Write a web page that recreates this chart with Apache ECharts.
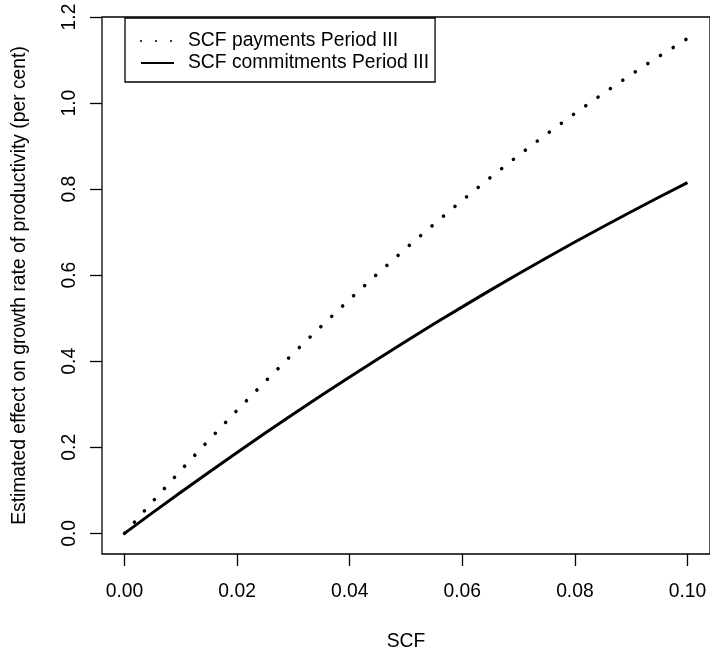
<!DOCTYPE html>
<html>
<head>
<meta charset="utf-8">
<script src="https://cdn.jsdelivr.net/npm/echarts@6/dist/echarts.min.js"></script>
<style>
html,body{margin:0;padding:0;background:#fff;}
#chart{width:710px;height:647px;}
</style>
</head>
<body>
<div id="chart"></div>
<script>
// SCF values (x axis)
var scf = [0, 0.005, 0.01, 0.015, 0.02, 0.025, 0.03, 0.035, 0.04, 0.045, 0.05,
           0.055, 0.06, 0.065, 0.07, 0.075, 0.08, 0.085, 0.09, 0.095, 0.1];
// SCF payments Period III (dotted)
var payments = [0, 0.074, 0.1465, 0.217, 0.286, 0.353, 0.4185, 0.482, 0.544, 0.604, 0.6625,
                0.719, 0.774, 0.827, 0.8785, 0.928, 0.976, 1.022, 1.0665, 1.109, 1.15];
// SCF commitments Period III (solid)
var commitments = [0, 0.0482, 0.0955, 0.1421, 0.188, 0.233, 0.2773, 0.3207, 0.3634, 0.4054, 0.4465,
                   0.4869, 0.5264, 0.5652, 0.6033, 0.6405, 0.677, 0.7126, 0.7475, 0.7817, 0.815];
var xTicks = [0, 0.02, 0.04, 0.06, 0.08, 0.1];
var yTicks = [0, 0.2, 0.4, 0.6, 0.8, 1.0, 1.2];
var seriesNames = ['SCF payments Period III', 'SCF commitments Period III'];
var xTitle = 'SCF';
var yTitle = 'Estimated effect on growth rate of productivity (per cent)';

function pairs(xs, ys){ return xs.map(function(x,i){ return [x, ys[i]]; }); }

var FONT = '"Liberation Sans", Arial, Helvetica, sans-serif';
var FS = 19.3;

var chart = echarts.init(document.getElementById('chart'), null, {renderer:'canvas'});
chart.setOption({
  animation: false,
  backgroundColor: '#fff',
  color: ['#000', '#000'],
  textStyle: {fontFamily: FONT, color: '#000'},
  grid: {
    left: 102, top: 17, right: 0, bottom: 93,
    outerBoundsMode: 'none', containLabel: false,
    show: true, borderColor: '#000', borderWidth: 1.3, backgroundColor: 'transparent'
  },
  legend: {
    orient: 'vertical',
    left: 125, top: 18,
    padding: [12, 6, 8, 15],
    borderColor: '#000', borderWidth: 1.3,
    itemWidth: 33, itemHeight: 22, itemGap: 0,
    itemStyle: {opacity: 0},
    textStyle: {fontFamily: FONT, fontSize: FS, color: '#000', lineHeight: 22, padding: [0,0,0,9]},
    data: seriesNames,
    selectedMode: false
  },
  xAxis: {
    type: 'value',
    min: -0.004, max: 0.104,
    name: xTitle, nameLocation: 'middle', nameGap: 78,
    nameTextStyle: {fontFamily: FONT, fontSize: FS, color: '#000'},
    axisLine: {show: false, onZero: false},
    splitLine: {show: false},
    axisTick: {show: true, inside: false, length: 12, customValues: xTicks,
               lineStyle: {color: '#000', width: 1.3}},
    axisLabel: {show: true, margin: 28, customValues: xTicks,
                fontFamily: FONT, fontSize: FS, color: '#000',
                formatter: function(v){ return v.toFixed(2); }}
  },
  yAxis: {
    type: 'value',
    min: -0.048, max: 1.2,
    name: yTitle, nameLocation: 'middle', nameGap: 73,
    nameTextStyle: {fontFamily: FONT, fontSize: FS, color: '#000'},
    axisLine: {show: false, onZero: false},
    splitLine: {show: false},
    axisTick: {show: true, inside: false, length: 12, customValues: yTicks,
               lineStyle: {color: '#000', width: 1.3}},
    axisLabel: {show: true, margin: 23, rotate: 90, customValues: yTicks,
                fontFamily: FONT, fontSize: FS, color: '#000',
                formatter: function(v){ return v.toFixed(1); }}
  },
  series: [
    {
      name: seriesNames[0], type: 'line',
      data: pairs(scf, payments),
      showSymbol: false, symbol: 'none',
      itemStyle: {color: '#000'},
      lineStyle: {color: '#000', width: 3.6, type: [0.01, 15], cap: 'round'},
      z: 3
    },
    {
      name: seriesNames[1], type: 'line',
      data: pairs(scf, commitments),
      showSymbol: false, symbol: 'none',
      itemStyle: {color: '#000'},
      lineStyle: {color: '#000', width: 3, type: 'solid'},
      z: 3
    }
  ]
});
</script>
</body>
</html>
